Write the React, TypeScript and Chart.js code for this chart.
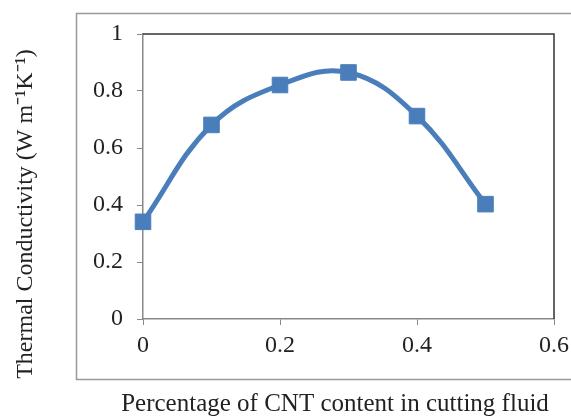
import React, { useEffect, useRef } from "react";
import { Chart, registerables } from "chart.js";

Chart.register(...registerables);

const cntContent = [0, 0.1, 0.2, 0.3, 0.4, 0.5];
const conductivity = [0.341, 0.681, 0.821, 0.865, 0.712, 0.403];
const xTitle = "Percentage of CNT content in cutting fluid";
const yTitle = "Thermal Conductivity (W m\u207B\u00B9K\u207B\u00B9)";

const BLUE = "#4A7EBB";
const FONT = "'Liberation Serif', 'Times New Roman', serif";

const fmt = (v: any) => String(Math.round(Number(v) * 10) / 10);

const framePlugin = {
  id: "frames",
  beforeDraw(chart: any) {
    const { ctx } = chart;
    ctx.save();
    ctx.fillStyle = "#ffffff";
    ctx.fillRect(0, 0, chart.width, chart.height);
    ctx.strokeStyle = "#999999";
    ctx.lineWidth = 1.5;
    ctx.strokeRect(76.5, 13.5, chart.width + 20, 366);
    ctx.restore();
  },
  beforeDatasetsDraw(chart: any) {
    const { ctx, chartArea } = chart;
    ctx.save();
    ctx.strokeStyle = "#333333";
    ctx.lineWidth = 1.5;
    ctx.beginPath();
    ctx.moveTo(chartArea.left, chartArea.top);
    ctx.lineTo(chartArea.right, chartArea.top);
    ctx.lineTo(chartArea.right, chartArea.bottom);
    ctx.stroke();
    ctx.restore();
  },
  afterDraw(chart: any) {
    const { ctx } = chart;
    ctx.save();
    ctx.fillStyle = "#222";
    ctx.font = `25px ${FONT}`;
    ctx.textAlign = "center";
    ctx.textBaseline = "alphabetic";
    ctx.fillText(xTitle, 335, 411);
    ctx.translate(32, 214);
    ctx.rotate(-Math.PI / 2);
    ctx.font = `24px ${FONT}`;
    ctx.fillText(yTitle, 0, 0);
    ctx.restore();
  },
};

export default function App() {
  const ref = useRef<HTMLCanvasElement | null>(null);
  useEffect(() => {
    if (!ref.current) return;
    const chart = new Chart(ref.current, {
      type: "line",
      data: {
        datasets: [
          {
            data: cntContent.map((x, i) => ({ x, y: conductivity[i] })),
            borderColor: BLUE,
            backgroundColor: BLUE,
            borderWidth: 5,
            tension: 0.4,
            clip: false,
            pointStyle: "rect",
            pointRadius: 11,
            pointBorderWidth: 1,
            pointBackgroundColor: BLUE,
            pointBorderColor: BLUE,
          },
        ],
      },
      options: {
        animation: false,
        responsive: false,
        maintainAspectRatio: false,
        layout: { padding: { left: 0, top: 34, right: 17, bottom: 0 } },
        plugins: { legend: { display: false }, tooltip: { enabled: false } },
        scales: {
          x: {
            type: "linear",
            min: 0,
            max: 0.6,
            afterFit: (s: any) => {
              s.height = 97;
              s.paddingLeft = 0;
              s.paddingRight = 0;
            },
            ticks: {
              stepSize: 0.2,
              padding: 9,
              color: "#222",
              callback: fmt,
              font: { family: FONT, size: 24, lineHeight: 1 },
            },
            grid: { drawOnChartArea: false, drawTicks: true, tickLength: 6, color: "#888" },
            border: { display: true, color: "#888", width: 1.5 },
            title: { display: false, text: xTitle },
          },
          y: {
            type: "linear",
            min: 0,
            max: 1,
            afterFit: (s: any) => {
              s.width = 143;
              s.paddingTop = 0;
              s.paddingBottom = 0;
            },
            ticks: {
              stepSize: 0.2,
              padding: 14,
              color: "#222",
              callback: fmt,
              font: { family: FONT, size: 24 },
            },
            grid: { drawOnChartArea: false, drawTicks: true, tickLength: 6, color: "#888" },
            border: { display: true, color: "#888", width: 1.5 },
            title: { display: false, text: yTitle },
          },
        },
      },
      plugins: [framePlugin],
    });
    return () => chart.destroy();
  }, []);
  return (
    <div style={{ position: "fixed", left: 0, top: 0, width: 571, height: 416, background: "#fff" }}>
      <canvas ref={ref} width={571} height={416} style={{ width: 571, height: 416, display: "block" }} />
    </div>
  );
}
